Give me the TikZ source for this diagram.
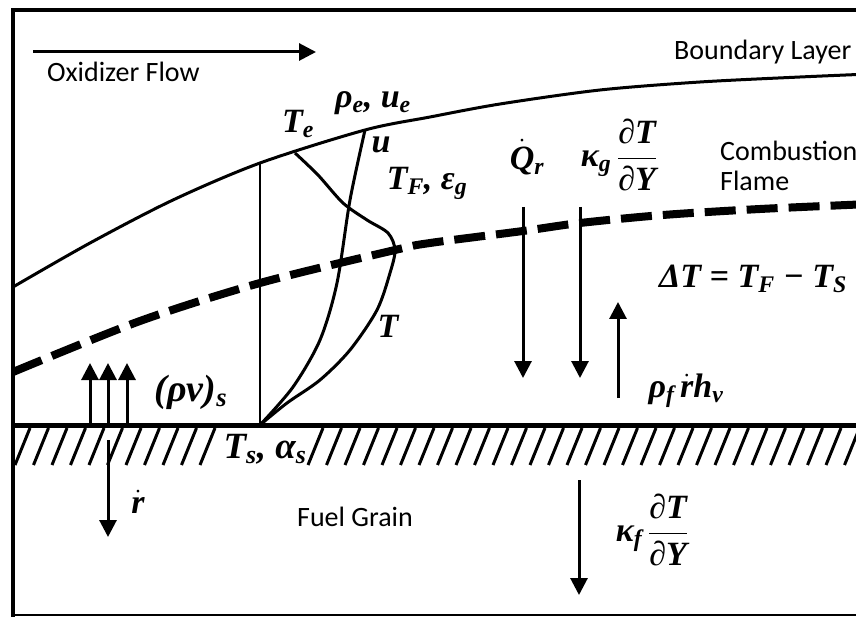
\RequirePackage{fix-cm}
\documentclass[tikz,border=0pt]{standalone}
\usepackage{amsmath}
\usepackage{fontspec}
\setmainfont{Liberation Serif}
\newfontfamily\carlito{Carlito}
\usetikzlibrary{arrows.meta,positioning}
\newcommand\lblfont{\rmfamily\bfseries\itshape\fontsize{34}{40}\selectfont}
\newcommand\txtfont{\carlito\fontsize{28}{30}\selectfont}
\newcommand\lsub[1]{$_{\text{#1}}$}

\begin{document}
\begin{tikzpicture}[x=1pt, y=-1pt,
  frame/.style={line width=4pt},
  curve/.style={line width=3pt, line join=round},
  flame/.style={line width=8pt, dash pattern=on 31pt off 11pt},
  thinline/.style={line width=2pt},
  hatch/.style={line width=3pt},
  flux/.style={line width=3pt, -{Triangle[width=17pt,length=17pt]}},
  lbl/.style={font=\lblfont, inner sep=0pt},
  txt/.style={font=\txtfont, inner sep=0pt}]
\fill[white] (0,0) rectangle (856,617);
\useasboundingbox (0,0) rectangle (856,617);

% frame, open on the right
\draw[frame] (870,10) -- (13,10) -- (13,617);
\draw[thinline] (13,615) -- (870,615);

% boundary layer edge and flame sheet
\draw[curve] plot[smooth] coordinates {(13,287) (90,243) (173,200) (260,163) (365,130)
  (430,117) (500,104) (600,90) (700,82) (800,77) (870,74)};
\draw[flame] plot[smooth] coordinates {(13,372) (140,321) (260,283) (395,250) (430,243)
  (523,231) (580,223) (663,215) (760,209) (870,204)};

% fuel surface with hatching
\draw[line width=5pt] (13,425) -- (870,425);
\foreach \hx in {15,33.5,...,200}
  \draw[hatch] (\hx,465) -- ++(15,-37);
\foreach \hx in {308,326.5,...,870}
  \draw[hatch] (\hx,465) -- ++(15,-37);

% profiles
\coordinate (wall) at (260,425);
\coordinate (edge) at (260,163);
\draw[thinline] (edge) -- (wall);
\draw[curve] plot[smooth] coordinates {(260,425) (293,387) (320,340) (337,283) (350,200) (365,130)};
\draw[curve] plot[smooth] coordinates {(295,153) (318,175) (343,203) (367,220) (388,233)
  (395,250) (390,273) (377,310) (350,350) (320,380) (287,403) (260,425)};

% fluxes
\foreach \n/\x/\ya/\yb in {qr/523/207/378, kg/580/207/378, rf/618/398/302,
    va/90/423/363, vb/108/423/363, vc/127/423/363, rd/108/440/537, kf/579/480/595} {
  \coordinate (\n-a) at (\x,\ya);
  \coordinate (\n-b) at (\x,\yb);
}
\coordinate (ox-a) at (33,52); \coordinate (ox-b) at (316,52);
\foreach \n in {ox, qr, kg, rf, va, vb, vc, rd, kf}
  \draw[flux] (\n-a) -- (\n-b);

% plain labels
\node[txt, anchor=base west] (oxlbl) at (47,82) {Oxidizer Flow};
\node[txt, anchor=base west] (bllbl) at (674,60) {Boundary Layer};
\node[txt, anchor=west, align=left] (cflbl) at (720,166) {Combustion\\Flame};
\node[txt, anchor=base] (fglbl) at (355,526) {Fuel Grain};

% symbols
\node[lbl] (te) at (298,124) {T\lsub{e}};
\node[lbl] (rhoe) at (373,103) {ρ\lsub{e}, u\lsub{e}};
\node[lbl] (ue) at (381,145) {u};
\node[lbl] (tf) at (427,183) {T\lsub{F}, ε\lsub{g}};
\node[lbl] (tprof) at (388,326) {T};
\node[lbl, font=\rmfamily\bfseries\itshape\fontsize{38}{42}\selectfont] (rhov) at (191,392) {(ρv)\lsub{s}};
\node[lbl, font=\rmfamily\bfseries\itshape\fontsize{37}{40}\selectfont] (ts) at (265,449) {T\lsub{s}, α\lsub{s}};
\node[lbl] (rdot) at (138,502) {$\dot{\text{r}}$};
\node[lbl] (qr) at (527,157) {$\dot{\text{Q}}$\lsub{r}};
\node[lbl] (kg) at (619,155) {κ\lsub{g}\,$\dfrac{\text{∂T}}{\text{∂Y}}$};
\node[lbl] (dt) at (753,279) {ΔT = T\lsub{F} − T\lsub{S}};
\node[lbl] (rf) at (686,391) {ρ\lsub{f}\,$\dot{\text{r}}$h\lsub{v}};
\node[lbl] (kf) at (652,530) {κ\lsub{f}\,$\dfrac{\text{∂T}}{\text{∂Y}}$};
\end{tikzpicture}
\end{document}
